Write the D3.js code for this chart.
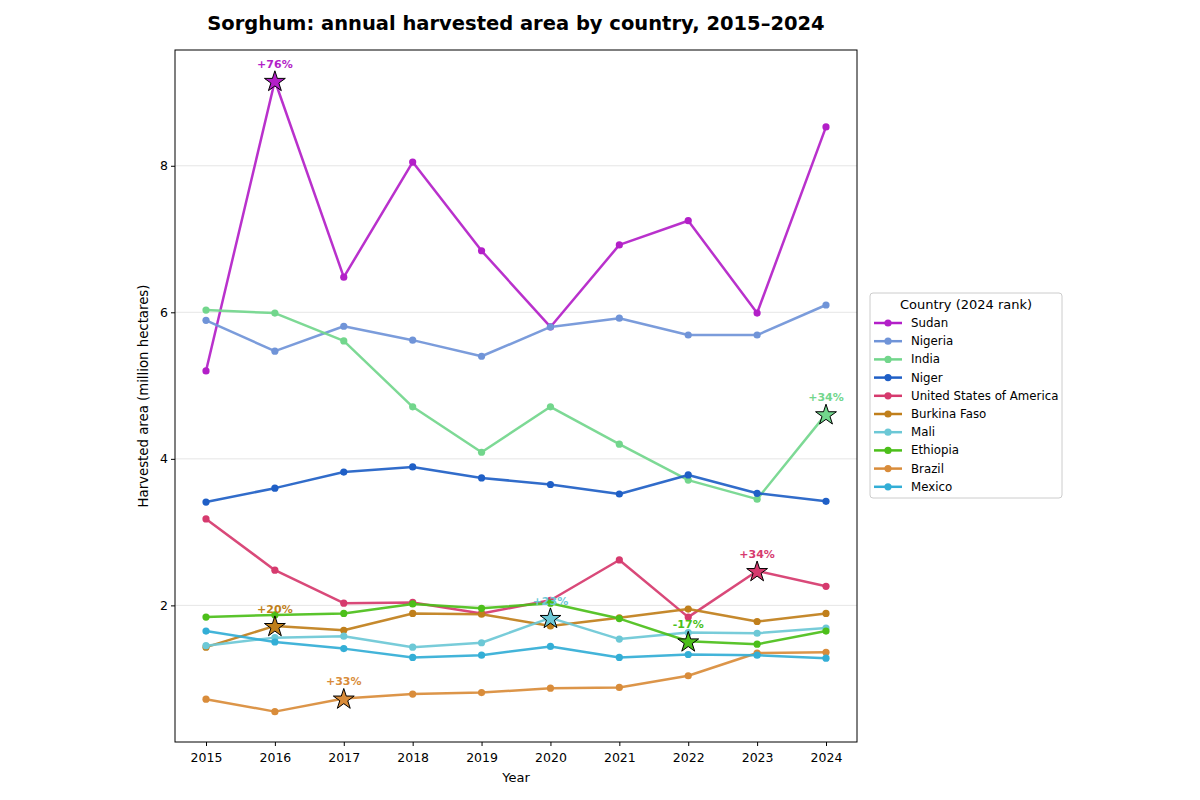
<!DOCTYPE html>
<html>
<head>
<meta charset="utf-8">
<script src="https://cdn.jsdelivr.net/npm/d3@7"></script>
<style>
  body { margin: 0; background: #fff; }
  svg { font-family: "DejaVu Sans", sans-serif; }
</style>
</head>
<body>
<div id="chart"></div>
<script>
// data (million hectares)
var years = [2015, 2016, 2017, 2018, 2019, 2020, 2021, 2022, 2023, 2024];

var countries = ["Sudan", "Nigeria", "India", "Niger", "United States of America",
  "Burkina Faso", "Mali", "Ethiopia", "Brazil", "Mexico"];

var sudan    = [5.20, 9.16, 6.48, 8.05, 6.84, 5.80, 6.92, 7.25, 5.99, 8.53];
var nigeria  = [5.89, 5.47, 5.81, 5.62, 5.40, 5.80, 5.92, 5.69, 5.69, 6.10];
var india    = [6.03, 5.99, 5.61, 4.71, 4.09, 4.71, 4.20, 3.71, 3.45, 4.61];
var niger    = [3.41, 3.60, 3.82, 3.89, 3.74, 3.65, 3.52, 3.78, 3.53, 3.42];
var usa      = [3.18, 2.48, 2.03, 2.04, 1.89, 2.07, 2.62, 1.84, 2.47, 2.26];
var burkina  = [1.43, 1.72, 1.66, 1.89, 1.88, 1.72, 1.83, 1.95, 1.78, 1.89];
var mali     = [1.45, 1.56, 1.58, 1.43, 1.49, 1.83, 1.54, 1.63, 1.62, 1.69];
var ethiopia = [1.84, 1.87, 1.89, 2.02, 1.96, 2.03, 1.82, 1.51, 1.47, 1.65];
var brazil   = [0.72, 0.55, 0.73, 0.79, 0.81, 0.87, 0.88, 1.04, 1.35, 1.36];
var mexico   = [1.65, 1.50, 1.41, 1.29, 1.32, 1.44, 1.29, 1.33, 1.32, 1.28];

var seriesValues = [sudan, nigeria, india, niger, usa, burkina, mali, ethiopia, brazil, mexico];

var colors = ["#b31fc8", "#7094d8", "#72d68c", "#1f5fc6", "#d63a6e",
  "#c07f1b", "#6cc8d6", "#4cbf1a", "#d98c3a", "#33aed6"];

// highlighted year-over-year jumps (country index, year)
var starCountry = [0, 2, 4, 5, 6, 7, 8];
var starYear    = [2016, 2024, 2023, 2016, 2020, 2022, 2017];

var yTicks = [2, 4, 6, 8];

var width = 1200, height = 800;
var margin = {left: 175, right: 343, top: 50, bottom: 58};
var plotW = width - margin.left - margin.right,
    plotH = height - margin.top - margin.bottom;

var svg = d3.select("#chart").append("svg")
  .attr("width", width)
  .attr("height", height);

var x = d3.scaleLinear()
  .domain([2015 - 0.45, 2024 + 0.45])
  .range([margin.left, margin.left + plotW]);

var y = d3.scaleLinear()
  .domain([0.1355, 9.58])
  .range([margin.top + plotH, margin.top]);

// grid
svg.append("g").selectAll("line")
  .data(yTicks).enter().append("line")
  .attr("x1", margin.left).attr("x2", margin.left + plotW)
  .attr("y1", function(d) { return y(d); })
  .attr("y2", function(d) { return y(d); })
  .attr("stroke", "#e6e6e6").attr("stroke-width", 1);

var data = countries.map(function(c, i) {
  return {name: c, color: colors[i], values: seriesValues[i].map(function(v, j) {
    return {year: years[j], value: v};
  })};
});

var line = d3.line()
  .x(function(d) { return x(d.year); })
  .y(function(d) { return y(d.value); });

var g = svg.append("g");
data.forEach(function(s) {
  g.append("path")
    .datum(s.values)
    .attr("d", line)
    .attr("fill", "none")
    .attr("stroke", s.color)
    .attr("stroke-width", 2.5)
    .attr("stroke-opacity", 0.92)
    .attr("stroke-linejoin", "round");
  g.selectAll(null)
    .data(s.values).enter().append("circle")
    .attr("cx", function(d) { return x(d.year); })
    .attr("cy", function(d) { return y(d.value); })
    .attr("r", 3.6)
    .attr("fill", s.color);
});

// stars + labels
var star = d3.symbol().type(d3.symbolStar).size(135);
starCountry.forEach(function(ci, k) {
  var yr = starYear[k];
  var j = years.indexOf(yr);
  var vals = seriesValues[ci];
  var pct = Math.round((vals[j] / vals[j - 1] - 1) * 100);
  var lbl = (pct > 0 ? "+" : "") + pct + "%";
  var px = x(yr), py = y(vals[j]);
  svg.append("text")
    .attr("x", px).attr("y", py - 13)
    .attr("text-anchor", "middle")
    .attr("font-size", 11)
    .attr("font-weight", "bold")
    .attr("fill", colors[ci])
    .text(lbl);
  svg.append("path")
    .attr("d", star)
    .attr("transform", "translate(" + px + "," + (py + 1) + ")")
    .attr("fill", colors[ci])
    .attr("stroke", "#000")
    .attr("stroke-width", 1);
});

// axes
var xAxis = d3.axisBottom(x).tickValues(years).tickFormat(d3.format("d")).tickSizeOuter(0).tickSize(4);
var yAxis = d3.axisLeft(y).tickValues(yTicks).tickSizeOuter(0).tickSize(4);

var xg = svg.append("g")
  .attr("transform", "translate(0," + (margin.top + plotH) + ")")
  .call(xAxis);
var yg = svg.append("g")
  .attr("transform", "translate(" + margin.left + ",0)")
  .call(yAxis);
[xg, yg].forEach(function(a) {
  a.select(".domain").remove();
  a.selectAll("text").attr("font-size", 12.5).attr("fill", "#000")
    .attr("font-family", "DejaVu Sans, sans-serif");
  a.selectAll(".tick line").attr("stroke", "#000");
});
xg.selectAll("text").attr("dy", "1.05em");

svg.append("rect")
  .attr("x", margin.left).attr("y", margin.top)
  .attr("width", plotW).attr("height", plotH)
  .attr("fill", "none").attr("stroke", "#000").attr("stroke-width", 1);

// titles
svg.append("text")
  .attr("x", margin.left + plotW / 2).attr("y", 30)
  .attr("text-anchor", "middle")
  .attr("font-size", 19.5).attr("font-weight", "bold")
  .text("Sorghum: annual harvested area by country, 2015\u20132024");

svg.append("text")
  .attr("x", margin.left + plotW / 2).attr("y", 782)
  .attr("text-anchor", "middle")
  .attr("font-size", 13)
  .text("Year");

svg.append("text")
  .attr("transform", "translate(148," + (margin.top + plotH / 2) + ") rotate(-90)")
  .attr("text-anchor", "middle")
  .attr("font-size", 13.3)
  .text("Harvested area (million hectares)");

// legend
var lg = svg.append("g").attr("transform", "translate(870,293)");
lg.append("rect")
  .attr("width", 192).attr("height", 205)
  .attr("rx", 3)
  .attr("fill", "#fff").attr("stroke", "#ccc");
lg.append("text")
  .attr("x", 96).attr("y", 16)
  .attr("text-anchor", "middle")
  .attr("font-size", 13)
  .text("Country (2024 rank)");
data.forEach(function(s, i) {
  var ly = 30 + i * 18.2;
  lg.append("line")
    .attr("x1", 4).attr("x2", 32).attr("y1", ly).attr("y2", ly)
    .attr("stroke", s.color).attr("stroke-width", 2.5);
  lg.append("circle").attr("cx", 18).attr("cy", ly).attr("r", 3.6).attr("fill", s.color);
  lg.append("text")
    .attr("x", 41).attr("y", ly + 4)
    .attr("font-size", 11.8)
    .text(s.name);
});
</script>
</body>
</html>
